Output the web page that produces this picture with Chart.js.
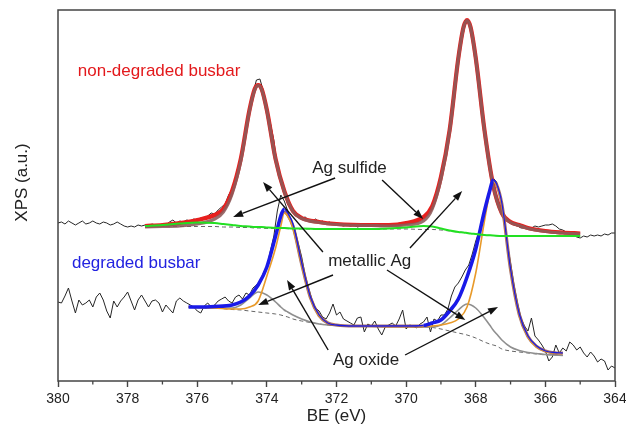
<!DOCTYPE html>
<html><head><meta charset="utf-8">
<script src="https://cdn.jsdelivr.net/npm/chart.js@4.4.1/dist/chart.umd.min.js"></script>
<style>html,body{margin:0;padding:0;background:#fff}#wrap{width:626px;height:433px}</style>
</head><body><div id="wrap"><canvas id="c" width="626" height="433"></canvas></div>
<script>
// ---------- DATA (binding energy in eV, intensity in arbitrary units) ----------
const rawBE = [
380,379.9,379.8,379.7,379.6,379.5,379.4,379.3,379.2,379.1,
379,378.9,378.8,378.7,378.6,378.5,378.4,378.3,378.2,378.1,
378,377.9,377.8,377.7,377.6,377.5,377.4,377.3,377.2,377.1,
377,376.9,376.8,376.7,376.6,376.5,376.4,376.3,376.2,376.1,
376,375.9,375.8,375.7,375.6,375.5,375.4,375.3,375.2,375.1,
375,374.9,374.8,374.7,374.6,374.5,374.4,374.3,374.2,374.1,
374,373.9,373.8,373.7,373.6,373.5,373.4,373.3,373.2,373.1,
373,372.9,372.8,372.7,372.6,372.5,372.4,372.3,372.2,372.1,
372,371.9,371.8,371.7,371.6,371.5,371.4,371.3,371.2,371.1,
371,370.9,370.8,370.7,370.6,370.5,370.4,370.3,370.2,370.1,
370,369.9,369.8,369.7,369.6,369.5,369.4,369.3,369.2,369.1,
369,368.9,368.8,368.7,368.6,368.5,368.4,368.3,368.2,368.1,
368,367.9,367.8,367.7,367.6,367.5,367.4,367.3,367.2,367.1,
367,366.9,366.8,366.7,366.6,366.5,366.4,366.3,366.2,366.1,
366,365.9,365.8,365.7,365.6,365.5,365.4,365.3,365.2,365.1,
365,364.9,364.8,364.7,364.6,364.5,364.4,364.3,364.2,364.1,
364];

// non-degraded busbar, measured spectrum
const ndRaw = [
158,159,157,160,158,156,158,160,157,158,160,158,157,159,158,156,157,159,157,155,154,155,154,156,155,156,
155,157,156,155,157,156,159,161,158,160,159,161,160,162,161,163,162,165,168,167,
171,174,177,186,192,203,216,233,254,272,288,301,302,290,274,
258,241,214,200,188,176,174,168,167,163,164,161,160,162,159,
160,158,159,157,158,156,155,156,155,156,154,155,156,155,156,155,157,156,155,156,
157,156,158,157,159,158,160,161,163,164,168,171,179,187,202,
220,240,264,293,321,341,357,360,349,325,297,266,238,214,195,
182,172,165,162,158,156,155,153,153,154,153,155,154,155,156,156,157,155,152,151,
149,148,146,144,143,145,144,146,145,146,145,147,146,148,148];

// degraded busbar, measured spectrum
const dRaw = [
79,78,85,93,80,68,81,76,78,81,74,84,88,81,70,63,80,74,80,84,89,80,71,81,86,80,
74,80,81,78,69,76,72,68,80,83,80,78,76,74,70,68,75,78,74,76,
80,82,84,80,78,84,86,82,88,86,93,96,100,108,114,
130,145,170,186,180,170,158,152,138,124,106,93,81,73,70,
64,62,68,77,66,69,62,60,58,56,63,64,49,57,55,60,52,46,54,56,
58,55,62,71,52,56,55,53,57,59,64,49,62,60,66,
66,72,85,94,98,104,111,116,127,140,150,162,176,192,203,
199,185,166,139,118,96,78,63,55,50,63,45,41,36,30,20,24,36,28,33,
30,39,36,31,34,28,24,29,25,19,22,20,11,15,13];

// non-degraded fit
const ndFitBE = [377.5,377,376.5,376,375.5,375.25,375,374.75,374.5,374.35,374.25,374.15,374,373.75,373.5,373.25,373,372.5,372,371,370.5,370,369.5,369.25,369,368.75,368.5,368.35,368.25,368.15,368,367.75,367.5,367.25,367,366.75,366.5,366,365.5,365];
const ndEnvelope = [155,156,158,161,166,172,190,222,271,292,296,292,271,222,190,170,163,159,157,156,156,158,164,175,204,251,323,354,361,354,323,251,196,168,159,156,153,150,148.5,147.5];
const ndMetallic = [154,154.5,155,157,162,169,187,220,270,291,295.5,291.5,270.5,221.5,189.5,169.5,162.5,158.5,156.5,155.5,155,156,160,172,202,250,322.5,353.5,360.5,353.5,322.5,250.5,195.5,167.5,158.5,155.5,152.5,149.5,148,147];
const ndSulfide = [155,156,157.5,158.5,158,157,156,155,154.5,154,154,154,153.5,153,153,152.5,152.5,152,152,152,152.5,153.5,155,154.5,152.5,150.5,149,148.5,148,147.5,147,146,145.5,145,145,145,145,145,145,145];
const ndBackground = [155,155,154.5,154.5,154.5,154,154,153.5,153.5,153,153,153,152.5,152.5,152.5,152,152,152,152,152,152,152,151.5,151.5,151,150,149,148.5,148,147.5,147,146,145.5,145,145,145,145,145,145,145];

// degraded fit
const dFitBE = [376.25,376,375.5,375,374.75,374.5,374.25,374,373.75,373.6,373.5,373.4,373.25,373,372.75,372.5,372.25,372,371.5,371,370.5,370,369.5,369.25,369,368.75,368.5,368.25,368,367.75,367.6,367.5,367.4,367.25,367,366.75,366.5,366.25,366,365.75,365.5];
const dEnvelope = [74,74,74.5,76,79,85,96,114,145,165,172,168,157,118,84,66,58,56,55,55,55,55,55.5,58,61,70,82,104,132,170,190,201,197,178,112,67,45,35,30,28.5,28];
const dMetallic = [74,73.5,73,72,72,74,80,105,133,155,168,165,153,116,83,65,58,56,55,55,54.5,54.5,54.5,55,56,58,62,74,108,160,188,199,196,176,111,66,44,34,29.5,28,27.5];
const dMetallicTail = [null,null,null,null,null,null,null,null,null,null,170,166,155,117,83.5,65.5,58,56,55,55,54.8,54.8,55,null,null,null,null,null,null,null,null,200,196.5,177,111.5,66.5,44.5,34.5,30,28.2,27.8];
const dOxide = [74,73.5,73,73,76,83,89,86,79,74,71,69,66,62,59,57,56,55.5,55,55,54.5,54.5,54,54,56,63,71,77,73,63,56,51,47,41,34,30.5,28.5,27.5,26.5,26,25.5];
const dBackground = [74,73.5,73,71.5,71,70,69,68,67,66,65,64,62,60,58.5,57,56,55.5,55,55,54.5,54.5,54,53.5,52,50,48,46,43,39,37,36,35,32,30,29,28,27,26.5,26,25.5];
const dRisingRanges = [[373.5,376.25],[367.5,369.5]];

// axis ticks
const xMajorTicks = [380,378,376,374,372,370,368,366,364];
const xMinorTicks = [379,377,375,373,371,369,367,365];

// annotations (data coordinates: BE, intensity)
const labelText = ['non-degraded busbar','degraded busbar','Ag sulfide','metallic Ag','Ag oxide'];
const labelBE   = [379.43,379.6,372.7,372.24,372.1];
const labelVal  = [305,113,208,115,16];
const arrowFromBE  = [372.04,370.69,372.39,369.89,372.10,370.55,372.24,370.03];
const arrowFromVal = [203,201,129,133,106,111,31,26];
const arrowToBE    = [374.97,369.51,374.11,368.39,374.25,368.30,373.42,367.36];
const arrowToVal   = [164,162,199,190,76,61,101,74];

// ---------- STYLE ----------
const FONT = '"Liberation Sans", Arial, Helvetica, sans-serif';
const labelColors = ['#e3191c','#2222e0','#222','#222','#222'];

const pts = (xs, ys) => xs.map((x,i)=>({x, y: ys[i]}));
const fit = {pointRadius:0, cubicInterpolationMode:'monotone', fill:false};

const datasets = [
  {label:'nd raw', data:pts(rawBE, ndRaw), borderColor:'#262626', borderWidth:1, pointRadius:0, tension:0, order:20},
  {label:'d raw', data:pts(rawBE, dRaw), borderColor:'#262626', borderWidth:1, pointRadius:0, tension:0, order:19},
  {label:'nd bg', data:pts(ndFitBE, ndBackground), borderColor:'#666', borderWidth:1, borderDash:[4,3], ...fit, order:18},
  {label:'d bg', data:pts(dFitBE, dBackground), borderColor:'#666', borderWidth:1, borderDash:[4,3], ...fit, order:17},
  {label:'d oxide', data:pts(dFitBE, dOxide), borderColor:'#8f8f8f', borderWidth:1.6, ...fit, order:16},
  {label:'nd envelope', data:pts(ndFitBE, ndEnvelope), borderColor:'#e8201e', borderWidth:4.2, ...fit, order:15},
  {label:'nd metallic', data:pts(ndFitBE, ndMetallic), borderColor:'rgba(140,90,90,0.88)', borderWidth:3.2, ...fit, order:14},
  {label:'d metallic tail', data:pts(dFitBE, dMetallicTail), borderColor:'rgba(155,95,85,0.9)', borderWidth:3.2, spanGaps:false, ...fit, order:13},
  {label:'d metallic', data:pts(dFitBE, dMetallic), borderColor:'#e89a2a', borderWidth:1.6, ...fit, order:12},
  {label:'d envelope', data:pts(dFitBE, dEnvelope), borderColor:'#1a1ae8', borderWidth:1.3, ...fit, order:11,
    segment:{borderWidth: c => dRisingRanges.some(([lo,hi]) => c.p0.parsed.x <= hi && c.p1.parsed.x >= lo) ? 3.6 : 1.3}},
  {label:'nd sulfide', data:pts(ndFitBE, ndSulfide), borderColor:'#22e022', borderWidth:2, ...fit, order:10}
];

const annot = {
  id:'annot',
  afterDatasetsDraw(chart){
    const {ctx, scales:{x,y}} = chart;
    ctx.save();
    ctx.strokeStyle='#111'; ctx.fillStyle='#111'; ctx.lineWidth=1.4;
    for(let i=0;i<arrowFromBE.length;i++){
      const X0=x.getPixelForValue(arrowFromBE[i]), Y0=y.getPixelForValue(arrowFromVal[i]);
      const X1=x.getPixelForValue(arrowToBE[i]), Y1=y.getPixelForValue(arrowToVal[i]);
      const a=Math.atan2(Y1-Y0,X1-X0), L=10, W=3.6, ca=Math.cos(a), sa=Math.sin(a);
      const bx=X1-L*ca, by=Y1-L*sa;
      ctx.beginPath(); ctx.moveTo(X0,Y0); ctx.lineTo(bx,by); ctx.stroke();
      ctx.beginPath(); ctx.moveTo(X1,Y1); ctx.lineTo(bx+W*sa,by-W*ca); ctx.lineTo(bx-W*sa,by+W*ca); ctx.closePath(); ctx.fill();
    }
    ctx.font='17px '+FONT; ctx.textAlign='left'; ctx.textBaseline='alphabetic';
    labelText.forEach((t,i)=>{
      ctx.fillStyle=labelColors[i];
      ctx.fillText(t, x.getPixelForValue(labelBE[i]), y.getPixelForValue(labelVal[i]));
    });
    ctx.restore();
  },
  afterDraw(chart){
    const {ctx, chartArea:a, scales:{x}} = chart;
    ctx.save();
    ctx.strokeStyle='#444'; ctx.lineWidth=1.5;
    ctx.strokeRect(a.left, a.top, a.right-a.left, a.bottom-a.top);
    ctx.lineWidth=1.3;
    xMinorTicks.forEach(v=>{
      const px=x.getPixelForValue(v);
      ctx.beginPath(); ctx.moveTo(px,a.bottom); ctx.lineTo(px,a.bottom+3.5); ctx.stroke();
    });
    ctx.fillStyle='#222'; ctx.font='17px '+FONT; ctx.textAlign='center'; ctx.textBaseline='middle';
    ctx.translate(a.left-36, (a.top+a.bottom)/2-13);
    ctx.rotate(-Math.PI/2);
    ctx.fillText('XPS (a.u.)',0,0);
    ctx.restore();
  }
};

new Chart(document.getElementById('c'), {
  type:'line',
  data:{datasets},
  options:{
    responsive:false, animation:false, devicePixelRatio:1,
    layout:{padding:{left:0,right:11,top:10,bottom:0}},
    plugins:{legend:{display:false}, tooltip:{enabled:false}},
    scales:{
      x:{type:'linear', min:364, max:380, reverse:true,
        afterBuildTicks: s => { s.ticks = xMajorTicks.map(v=>({value:v})); },
        afterFit: s => { s.height = 52; s.paddingLeft = 0; s.paddingRight = 0; },
        border:{display:false},
        grid:{drawOnChartArea:false, drawTicks:true, tickLength:6, tickColor:'#444', tickWidth:1.4},
        ticks:{color:'#222', font:{family:FONT, size:14}, padding:4, maxRotation:0, autoSkip:false},
        title:{display:true, text:'BE (eV)', color:'#222', font:{family:FONT, size:17}, padding:{top:0,bottom:6}}
      },
      y:{type:'linear', min:0, max:371,
        afterFit: s => { s.width = 58; },
        border:{display:false}, grid:{display:false}, ticks:{display:false}
      }
    }
  },
  plugins:[annot]
});
</script></body></html>
